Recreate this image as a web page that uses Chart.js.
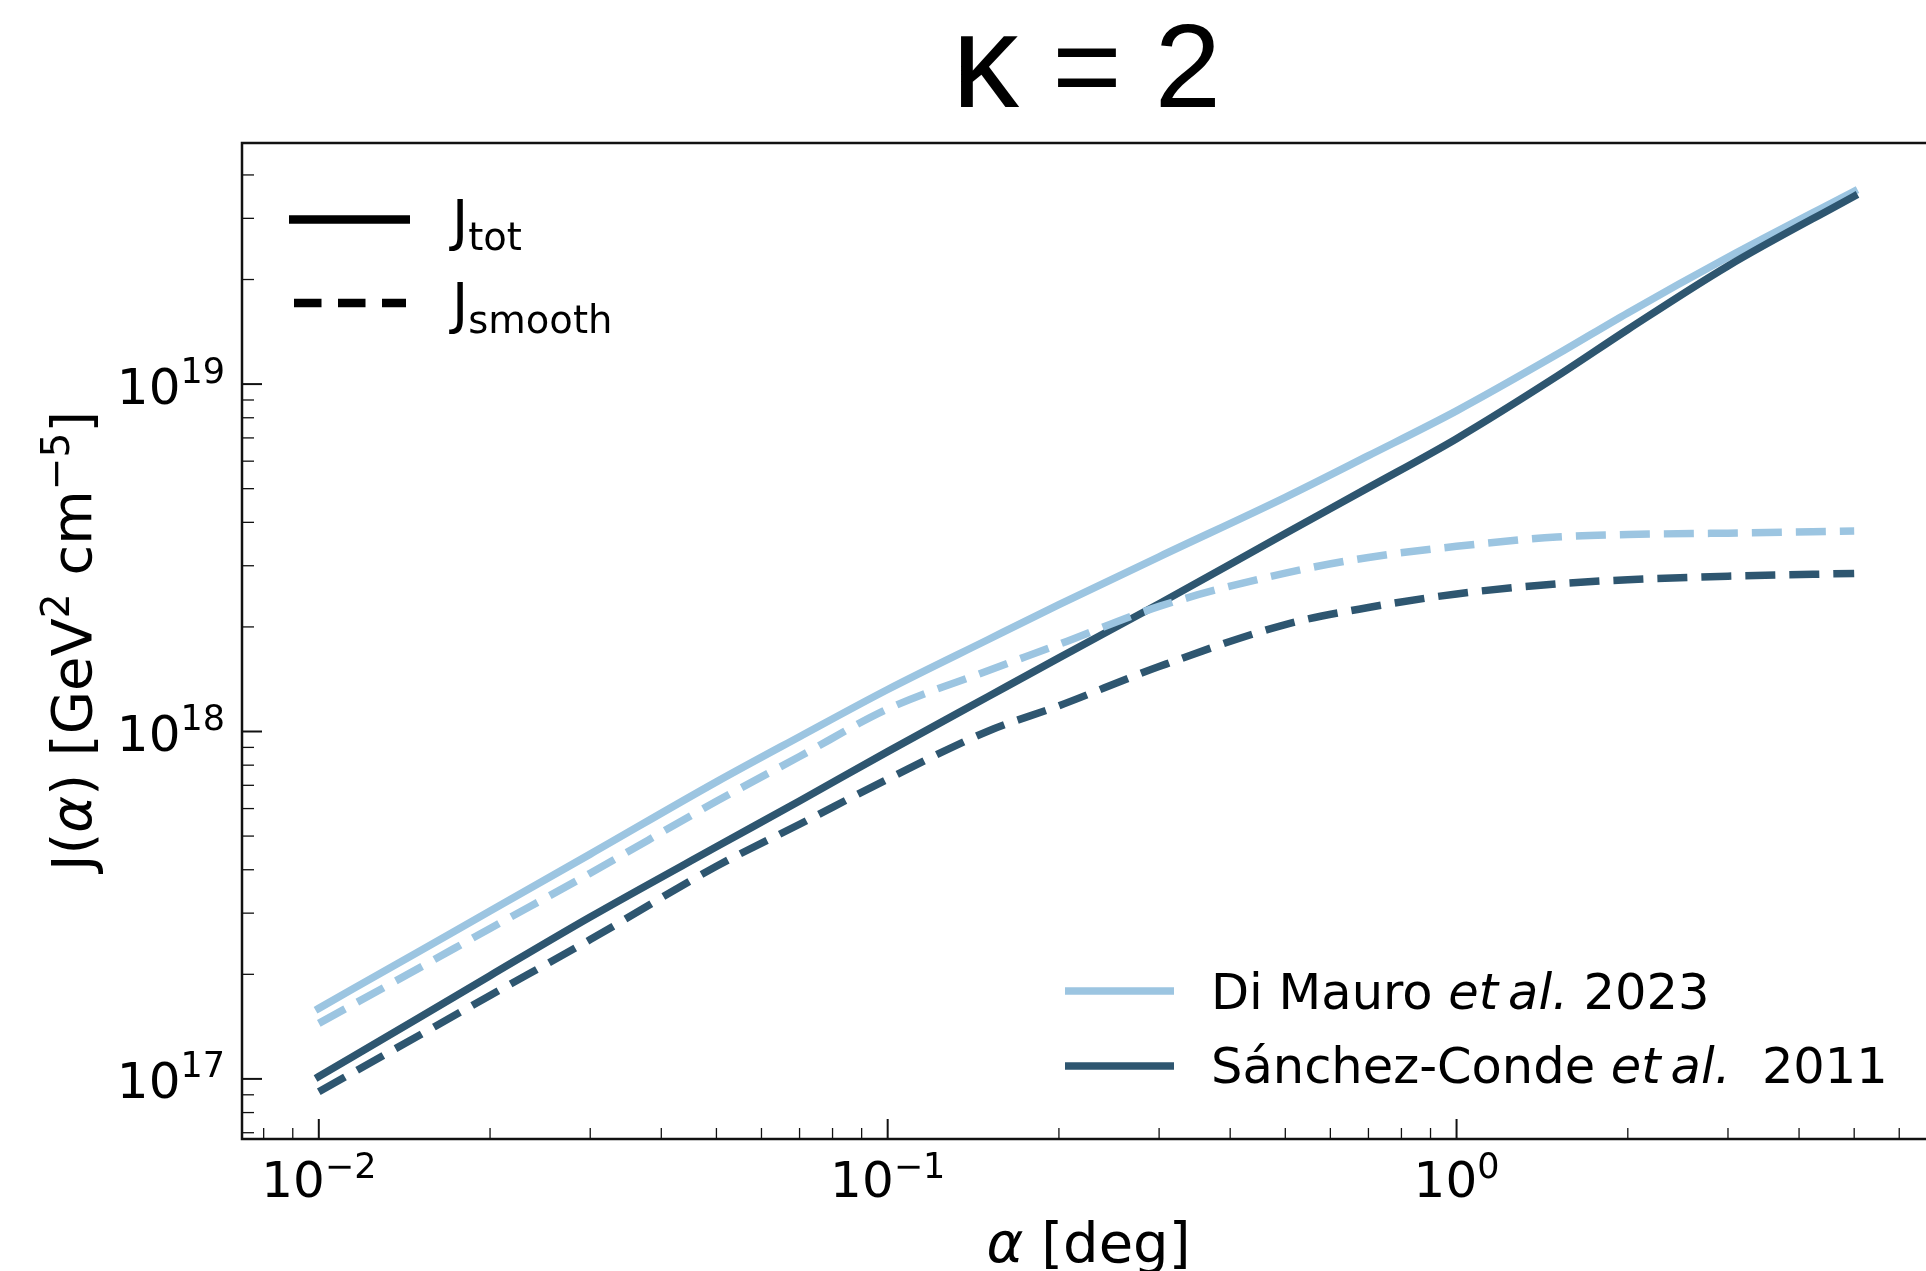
<!DOCTYPE html>
<html>
<head>
<meta charset="utf-8">
<script src="https://cdn.jsdelivr.net/npm/chart.js@4/dist/chart.umd.min.js"></script>
<style>
  html, body { margin: 0; padding: 0; overflow: hidden; background: #ffffff; }
  canvas { display: block; }
</style>
</head>
<body>
<canvas id="jplot" width="1940" height="1271"></canvas>
<script>
// Angular radius alpha [deg]
const alphaDeg = [0.01, 0.015, 0.02, 0.03, 0.05, 0.07, 0.1, 0.15, 0.2, 0.3, 0.5, 0.7, 1.0, 1.5, 2, 3, 5];

// J-factor [GeV^2 cm^-5], Di Mauro et al. 2023
const jTotDiMauro = [1.596e17, 2.328e17, 3.041e17, 4.436e17, 7.161e17, 9.661e17, 1.321e18, 1.837e18, 2.317e18,
  3.184e18, 4.721e18, 6.223e18, 8.375e18, 1.216e19, 1.603e19, 2.317e19, 3.589e19];
const jSmoothDiMauro = [1.445e17, 2.084e17, 2.710e17, 3.908e17, 6.295e17, 8.472e17, 1.161e18, 1.496e18, 1.782e18,
  2.291e18, 2.858e18, 3.170e18, 3.412e18, 3.631e18, 3.690e18, 3.724e18, 3.776e18];

// J-factor [GeV^2 cm^-5], Sánchez-Conde et al. 2011
const jTotSanchez = [1.016e17, 1.500e17, 1.982e17, 2.924e17, 4.656e17, 6.310e17, 8.750e17, 1.259e18, 1.629e18,
  2.333e18, 3.715e18, 5.035e18, 6.966e18, 1.052e19, 1.436e19, 2.188e19, 3.475e19];
const jSmoothSanchez = [9.183e16, 1.334e17, 1.738e17, 2.518e17, 4.093e17, 5.408e17, 7.295e17, 1.002e18, 1.186e18,
  1.538e18, 2.032e18, 2.275e18, 2.489e18, 2.661e18, 2.735e18, 2.799e18, 2.851e18];

// Labelled decades on each axis (powers of ten)
const xTickExponents = [-2, -1, 0];
const yTickExponents = [17, 18, 19];

const seriesNames = ['Di Mauro', 'Sánchez-Conde'];
const seriesYears = ['2023', '2011'];
const titleText = ['κ', ' = 2'];

// axis limits (log-scale data range plus margin)
const X_MIN = Math.pow(10, -2.135), X_MAX = Math.pow(10, 0.834);
const Y_MIN = Math.pow(10, 16.827), Y_MAX = Math.pow(10, 19.694);

const LIGHT = '#9cc5e1';
const DARK = '#2e5670';
const FONT = '"DejaVu Sans", sans-serif';

function points(values) {
  return alphaDeg.map((a, i) => ({ x: a, y: values[i] }));
}

function lineSet(label, values, color, dashed, order) {
  return {
    label: label,
    data: points(values),
    borderColor: color,
    backgroundColor: color,
    borderWidth: 7.5,
    borderDash: dashed ? [30, 14] : [],
    borderCapStyle: dashed ? 'butt' : 'square',
    borderJoinStyle: 'round',
    cubicInterpolationMode: 'monotone',
    pointRadius: 0,
    fill: false,
    order: order
  };
}

// draws a sequence of text runs (mixed size / italic / raised) as one label
function drawRuns(ctx, runs, x, y, align) {
  let total = 0;
  runs.forEach(r => {
    r.font = (r.it ? 'italic ' : '') + r.px + 'px ' + (r.family || FONT);
    ctx.font = r.font;
    r.w = ctx.measureText(r.t).width;
    total += r.w;
  });
  let cx = align === 'center' ? x - total / 2 : (align === 'right' ? x - total : x);
  ctx.textAlign = 'left';
  ctx.textBaseline = 'alphabetic';
  runs.forEach(r => {
    ctx.font = r.font;
    ctx.fillText(r.t, cx, y - (r.dy || 0));
    cx += r.w;
  });
}

const axesDecor = {
  id: 'axesDecor',
  afterDraw(chart) {
    const ctx = chart.ctx;
    const a = chart.chartArea;
    const xs = chart.scales.x, ys = chart.scales.y;
    ctx.save();
    ctx.fillStyle = '#000000';
    ctx.strokeStyle = '#111111';

    // frame
    ctx.lineWidth = 2.5;
    ctx.strokeRect(a.left, a.top, a.right - a.left, a.bottom - a.top);

    // inward log ticks
    const logTicks = (scale) => {
      const out = [];
      const e0 = Math.floor(Math.log10(scale.min)), e1 = Math.ceil(Math.log10(scale.max));
      for (let e = e0; e <= e1; e++) {
        for (let m = 1; m <= 9; m++) {
          const v = m * Math.pow(10, e);
          if (v >= scale.min && v <= scale.max) out.push({ v: v, major: m === 1 });
        }
      }
      return out;
    };
    logTicks(xs).forEach(t => {
      const px = xs.getPixelForValue(t.v);
      ctx.lineWidth = t.major ? 2 : 1.3;
      ctx.beginPath();
      ctx.moveTo(px, a.bottom);
      ctx.lineTo(px, a.bottom - (t.major ? 20 : 11));
      ctx.stroke();
    });
    logTicks(ys).forEach(t => {
      const py = ys.getPixelForValue(t.v);
      ctx.lineWidth = t.major ? 2 : 1.3;
      ctx.beginPath();
      ctx.moveTo(a.left, py);
      ctx.lineTo(a.left + (t.major ? 20 : 12), py);
      ctx.stroke();
    });

    // tick labels
    xTickExponents.forEach(e => {
      const px = xs.getPixelForValue(Math.pow(10, e));
      const ex = e < 0 ? '\u2212' + (-e) : String(e);
      drawRuns(ctx, [{ t: '10', px: 50 }, { t: ex, px: 35, dy: 19 }], px, 1197, 'center');
    });
    yTickExponents.forEach(e => {
      const py = ys.getPixelForValue(Math.pow(10, e));
      drawRuns(ctx, [{ t: '10', px: 50 }, { t: String(e), px: 35, dy: 21 }], 225, py + 19.5, 'right');
    });

    const cx = (a.left + a.right) / 2;
    const cy = (a.top + a.bottom) / 2;

    // axis titles
    drawRuns(ctx, [{ t: 'α', px: 56, it: true }, { t: ' [deg]', px: 56 }], cx + 2, 1262, 'center');
    ctx.save();
    ctx.translate(91, cy);
    ctx.rotate(-Math.PI / 2);
    drawRuns(ctx, [
      { t: 'J(', px: 56 }, { t: 'α', px: 56, it: true }, { t: ') [GeV', px: 56 },
      { t: '2', px: 39, dy: 22 }, { t: ' cm', px: 56 }, { t: '\u22125', px: 39, dy: 22 }, { t: ']', px: 56 }
    ], 0, 0, 'center');
    ctx.restore();

    // title
    drawRuns(ctx, [
      { t: titleText[0], px: 134, family: '"Liberation Sans", Arial, sans-serif' },
      { t: titleText[1], px: 119, family: '"Liberation Sans", Arial, sans-serif' }
    ], cx, 107, 'center');

    // legend: line styles
    ctx.strokeStyle = '#000000';
    ctx.lineWidth = 8.5;
    ctx.lineCap = 'butt';
    ctx.beginPath(); ctx.moveTo(289, 219.5); ctx.lineTo(410, 219.5); ctx.stroke();
    ctx.setLineDash([27.5, 16.5]);
    ctx.beginPath(); ctx.moveTo(294, 303); ctx.lineTo(406, 303); ctx.stroke();
    ctx.setLineDash([]);
    drawRuns(ctx, [{ t: 'J', px: 55 }, { t: 'tot', px: 38.5, dy: -11 }], 452, 238.5, 'left');
    drawRuns(ctx, [{ t: 'J', px: 55 }, { t: 'smooth', px: 38.5, dy: -11 }], 452, 322, 'left');

    // legend: references
    ctx.lineWidth = 7.7;
    ctx.strokeStyle = LIGHT;
    ctx.beginPath(); ctx.moveTo(1065, 991); ctx.lineTo(1174, 991); ctx.stroke();
    ctx.strokeStyle = DARK;
    ctx.beginPath(); ctx.moveTo(1065, 1066); ctx.lineTo(1174, 1066); ctx.stroke();
    drawRuns(ctx, [{ t: seriesNames[0] + ' ', px: 49.5 }, { t: 'et\u2009al.', px: 49.5, it: true }, { t: ' ' + seriesYears[0], px: 49.5 }], 1211, 1009, 'left');
    drawRuns(ctx, [{ t: seriesNames[1] + ' ', px: 49.5 }, { t: 'et\u2009al.', px: 49.5, it: true }, { t: '  ' + seriesYears[1], px: 49.5 }], 1211, 1083, 'left');

    ctx.restore();
  }
};

new Chart(document.getElementById('jplot'), {
  type: 'line',
  data: {
    datasets: [
      lineSet('Di Mauro et al. 2023, J_tot', jTotDiMauro, LIGHT, false, 4),
      lineSet('Sánchez-Conde et al. 2011, J_tot', jTotSanchez, DARK, false, 3),
      lineSet('Di Mauro et al. 2023, J_smooth', jSmoothDiMauro, LIGHT, true, 2),
      lineSet('Sánchez-Conde et al. 2011, J_smooth', jSmoothSanchez, DARK, true, 1)
    ]
  },
  options: {
    responsive: false,
    animation: false,
    devicePixelRatio: 1,
    layout: { padding: { left: 242, top: 143, right: 9, bottom: 132 } },
    scales: {
      x: { type: 'logarithmic', min: X_MIN, max: X_MAX, display: false },
      y: { type: 'logarithmic', min: Y_MIN, max: Y_MAX, display: false }
    },
    plugins: {
      legend: { display: false },
      title: { display: false },
      tooltip: { enabled: false }
    }
  },
  plugins: [axesDecor]
});
</script>
</body>
</html>
